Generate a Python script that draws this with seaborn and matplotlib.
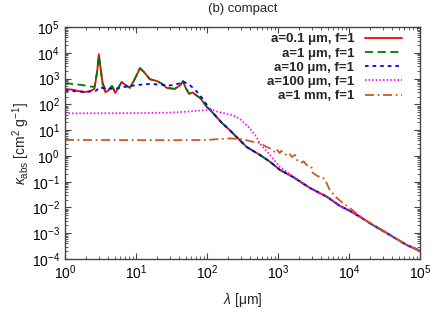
import numpy as np
import pandas as pd
import seaborn as sns
import matplotlib.pyplot as plt
from matplotlib.ticker import LogLocator, NullFormatter

# wavelength [um] and kappa_abs [cm^2 g^-1]
lam_01 = [1, 1.3, 1.8, 2.2, 2.6, 2.85, 3.0, 3.15, 3.4, 3.7, 4.1, 4.6, 5.1, 5.6, 6.3, 7.2,
          8.2, 9.5, 11.4, 13, 15.7, 20, 24, 27, 35, 42, 46, 50, 56, 63, 70, 80, 100, 121,
          160, 210, 280, 365, 557, 770, 1060, 1620, 2800, 4900, 7470, 10300, 14400, 21700,
          30000, 65000, 100000]
kap_01 = [400, 370, 300, 320, 400, 2000, 9000, 3000, 600, 300, 350, 510, 280, 420, 740, 550,
          440, 900, 2600, 1800, 950, 800, 600, 440, 400, 550, 800, 450, 260, 290, 230, 180, 79, 47,
          20, 10, 4.5, 2.2, 1.1, 0.6, 0.29, 0.155, 0.058, 0.026, 0.0115, 0.0074, 0.0043, 0.0021,
          0.00125, 0.00035, 0.00021]

lam_1 = [1, 1.3, 1.8, 2.2, 2.6, 2.85, 3.0, 3.15, 3.4, 3.7, 4.1, 4.6, 5.1, 5.6, 6.3, 7.2,
         8.2, 9.5, 11.4, 13, 15.7, 20, 24, 27, 35, 42, 46, 50, 56, 63, 70, 80, 100, 121,
         160, 210, 280, 365, 557, 770, 1060, 1620, 2800, 4900, 7470, 10300, 14400, 21700,
         30000, 65000, 100000]
kap_1 = [680, 620, 560, 500, 480, 2000, 8000, 3000, 650, 400, 380, 520, 320, 430, 740, 560,
         450, 900, 2500, 1800, 950, 800, 600, 440, 400, 550, 800, 450, 260, 290, 230, 180, 79, 47,
         20, 10, 4.5, 2.2, 1.1, 0.6, 0.29, 0.155, 0.058, 0.026, 0.0115, 0.0074, 0.0043, 0.0021,
         0.00125, 0.00035, 0.00021]

lam_10 = [1, 2, 2.7, 3.1, 3.5, 5, 7, 10, 15, 20, 30, 40, 46, 55, 65, 80, 100, 121,
          160, 210, 280, 365, 557, 770, 1060, 1620, 2800, 4900, 7470, 10300, 14400, 21700,
          30000, 65000, 100000]
kap_10 = [340, 310, 330, 470, 420, 400, 480, 560, 620, 600, 540, 640, 780, 620, 420, 230, 95, 48,
          20, 10, 4.5, 2.2, 1.1, 0.6, 0.29, 0.155, 0.058, 0.026, 0.0115, 0.0074, 0.0043, 0.0021,
          0.00125, 0.00035, 0.00021]

lam_100 = [1, 10, 30, 50, 80, 100, 121, 150, 230, 290, 400, 500, 557, 770, 1060, 1620,
           2800, 4900, 7470, 10300, 14400, 21700, 30000, 65000, 100000]
kap_100 = [45, 46, 48, 52, 58, 60, 60, 50, 38, 28, 12, 5.5, 3.0, 1.1, 0.38, 0.16,
           0.058, 0.026, 0.0115, 0.0074, 0.0043, 0.0021, 0.00125, 0.00035, 0.00021]

lam_1mm = [1, 10, 50, 100, 210, 320, 450, 557, 700, 800, 904, 960, 1060, 1120, 1200, 1330,
           1450, 1580, 1740, 1850, 2000, 2160, 2300, 2640, 3000, 3100, 3700, 4100, 4600,
           5400, 6800, 8200, 10300, 13400, 17000, 21700, 30000, 65000, 100000]
kap_1mm = [4.2, 4.1, 4.1, 4.2, 4.8, 4.4, 3.5, 3.2, 2.2, 1.9, 1.4, 1.8, 1.3, 1.6, 1.2, 1.1,
           1.25, 0.9, 1.1, 0.7, 0.6, 0.55, 0.62, 0.39, 0.35, 0.22, 0.16, 0.16, 0.12,
           0.047, 0.023, 0.015, 0.0095, 0.0053, 0.0032, 0.0022, 0.0013, 0.00036, 0.00021]

labels = ["a=0.1 μm, f=1", "a=1 μm, f=1", "a=10 μm, f=1", "a=100 μm, f=1", "a=1 mm, f=1"]

sns.set_style("ticks")
plt.rcParams["font.family"] = ["Liberation Sans", "DejaVu Sans"]
plt.rcParams["mathtext.fontset"] = "custom"
plt.rcParams["mathtext.rm"] = "Liberation Sans"
plt.rcParams["mathtext.it"] = "Liberation Sans:italic"
plt.rcParams["mathtext.bf"] = "Liberation Sans:bold"

fig, ax = plt.subplots(figsize=(4.36, 3.27), dpi=100)
fig.subplots_adjust(left=0.149, right=0.963, top=0.917, bottom=0.208)

series = [
    (lam_01, kap_01, "#ff0000", "-"),
    (lam_1, kap_1, "#007a00", (0, (4.5, 2.5))),
    (lam_10, kap_10, "#0000ff", (0, (2.0, 2.2))),
    (lam_100, kap_100, "#ff00ff", (0, (0.8, 1.2))),
    (lam_1mm, kap_1mm, "#cc5a1e", (0, (5, 2, 1, 2))),
]
for (lam, kap, col, ls), lab in zip(series, labels):
    df = pd.DataFrame({"lam": lam, "kap": kap})
    sns.lineplot(data=df, x="lam", y="kap", ax=ax, color=col, linestyle=ls,
                 lw=1.3, label=lab, estimator=None)

ax.set_xscale("log")
ax.set_yscale("log")
ax.set_xlim(1, 1e5)
ax.set_ylim(1e-4, 1e5)
ax.yaxis.set_major_locator(LogLocator(base=10, numticks=20))
ax.yaxis.set_minor_locator(LogLocator(base=10, subs=np.arange(2, 10), numticks=20))
ax.yaxis.set_minor_formatter(NullFormatter())
ax.xaxis.set_minor_locator(LogLocator(base=10, subs=np.arange(2, 10), numticks=20))
ax.xaxis.set_minor_formatter(NullFormatter())

ax.tick_params(which="both", direction="in", top=True, right=True, colors="#444444",
               labelcolor="black", labelsize=10)
ax.tick_params(which="major", length=4, width=0.8)
ax.tick_params(which="minor", length=2, width=0.6)
for sp in ax.spines.values():
    sp.set_color("#444444")
    sp.set_linewidth(1.0)

ax.set_xlabel(r"$\mathit{\lambda}$ [μm]", fontsize=10, labelpad=6)
ax.set_ylabel(r"$\kappa_{\rm abs}$ [cm$^2$ g$^{-1}$]", fontsize=10, labelpad=0)
ax.set_title("(b) compact", fontsize=9.5, pad=11)

leg = ax.legend(loc="upper right", bbox_to_anchor=(0.966, 1.0), frameon=False,
                markerfirst=False, handlelength=2.8, handletextpad=0.8, labelspacing=0.15,
                borderaxespad=0.05, prop={"weight": "bold", "size": 9.5})

plt.savefig("out.png", dpi=100)
